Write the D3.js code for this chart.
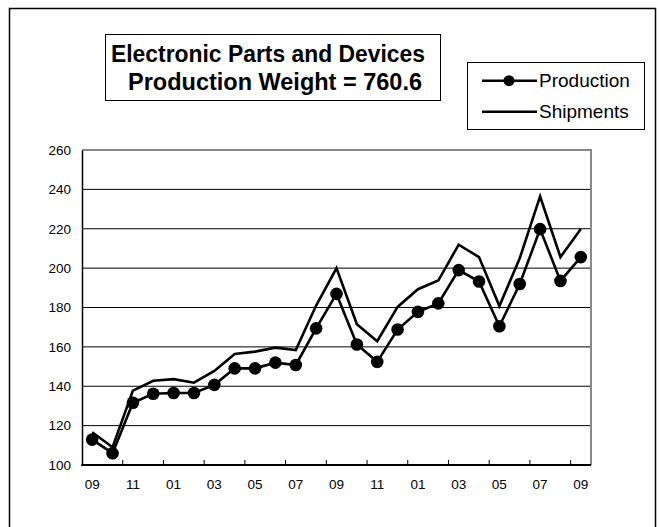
<!DOCTYPE html>
<html>
<head>
<meta charset="utf-8">
<script src="https://cdn.jsdelivr.net/npm/d3@7"></script>
<style>
  html, body { margin: 0; padding: 0; background: #fff; }
  svg { display: block; }
  text { font-family: "Liberation Sans", Arial, sans-serif; fill: #000; }
</style>
</head>
<body>
<svg id="chart" width="660" height="527"></svg>
<script>
// ---- data ----
const months = ["09","10","11","12","01","02","03","04","05","06","07","08",
                "09","10","11","12","01","02","03","04","05","06","07","08","09"];
const production = [112.9, 106.0, 131.6, 136.2, 136.6, 136.6, 140.7, 149.1, 149.1, 152.0, 150.8, 169.4,
                    186.9, 161.2, 152.4, 168.8, 177.8, 182.1, 199.0, 193.2, 170.5, 191.9, 219.8, 193.5, 205.6];
const shipments  = [116.6, 109.0, 137.8, 142.8, 143.6, 141.8, 147.8, 156.4, 157.6, 159.6, 158.4, 181.0,
                    200.0, 171.5, 162.9, 180.3, 189.3, 193.7, 211.9, 205.6, 180.7, 205.0, 236.4, 205.6, 219.9];
const yTicks = [100, 120, 140, 160, 180, 200, 220, 240, 260];
const titleLines = ["Electronic Parts and Devices", "Production Weight = 760.6"];
const seriesNames = ["Production", "Shipments"];

// ---- layout ----
const svg = d3.select("#chart");
const plot = { left: 82, right: 591, top: 150, bottom: 465 };

const x = d3.scaleBand().domain(d3.range(months.length)).range([plot.left, plot.right]).padding(0);
const y = d3.scaleLinear().domain([100, 260]).range([plot.bottom, plot.top]);
const cx = i => x(i) + x.bandwidth() / 2;

// outer frame
svg.append("rect").attr("x", 9.5).attr("y", 8.5).attr("width", 646).attr("height", 540)
  .attr("fill", "none").attr("stroke", "#000").attr("stroke-width", 1.5);

// gridlines
svg.append("g").selectAll("line").data(yTicks.filter(d => d > 100 && d < 260)).join("line")
  .attr("x1", plot.left).attr("x2", plot.right)
  .attr("y1", d => y(d)).attr("y2", d => y(d))
  .attr("stroke", "#000").attr("stroke-width", 1);

// plot border top/right (gray)
svg.append("path")
  .attr("d", `M${plot.left},${y(260)} H${plot.right} V${plot.bottom}`)
  .attr("fill", "none").attr("stroke", "#888").attr("stroke-width", 2);

// y axis
const yAxis = d3.axisLeft(y).tickValues(yTicks).tickSize(0).tickPadding(11);
const gy = svg.append("g").attr("transform", `translate(${plot.left},0)`).call(yAxis);
gy.select(".domain").attr("stroke", "#000").attr("stroke-width", 1.5);
gy.selectAll("text").attr("font-size", "13.5px").attr("font-family", "Liberation Sans, Arial, sans-serif").attr("fill", "#000");

// x axis: ticks at every second category boundary, labels every other category
const gx = svg.append("g");
gx.append("line").attr("x1", plot.left - 0.75).attr("x2", plot.right).attr("y1", plot.bottom).attr("y2", plot.bottom)
  .attr("stroke", "#000").attr("stroke-width", 2);
const tickIdx = d3.range(2, months.length, 2);
gx.selectAll("line.tick").data(tickIdx).join("line").attr("class", "tick")
  .attr("x1", i => x(i)).attr("x2", i => x(i))
  .attr("y1", plot.bottom).attr("y2", plot.bottom - 5)
  .attr("stroke", "#000").attr("stroke-width", 1);
gx.selectAll("text").data(d3.range(0, months.length, 2)).join("text")
  .attr("x", i => cx(i)).attr("y", plot.bottom + 24)
  .attr("text-anchor", "middle").attr("font-size", "13.5px")
  .text(i => months[i]);

// lines
const line = d3.line().x((d, i) => cx(i)).y(d => y(d));
svg.append("path").datum(shipments).attr("d", line)
  .attr("fill", "none").attr("stroke", "#000").attr("stroke-width", 2.6).attr("stroke-linejoin", "miter");
svg.append("path").datum(production).attr("d", line)
  .attr("fill", "none").attr("stroke", "#000").attr("stroke-width", 2.6).attr("stroke-linejoin", "miter");
svg.append("g").selectAll("circle").data(production).join("circle")
  .attr("cx", (d, i) => cx(i)).attr("cy", d => y(d)).attr("r", 6.3).attr("fill", "#000");

// title box
svg.append("rect").attr("x", 105.5).attr("y", 34.5).attr("width", 335).attr("height", 66)
  .attr("fill", "#fff").attr("stroke", "#000").attr("stroke-width", 1);
svg.append("text").attr("x", 268).attr("y", 61.5).attr("text-anchor", "middle")
  .attr("font-size", "23px").attr("font-weight", "bold")
  .attr("textLength", 314).attr("lengthAdjust", "spacingAndGlyphs").text(titleLines[0]);
svg.append("text").attr("x", 275).attr("y", 89.5).attr("text-anchor", "middle")
  .attr("font-size", "23px").attr("font-weight", "bold")
  .attr("textLength", 294).attr("lengthAdjust", "spacingAndGlyphs").text(titleLines[1]);

// legend
svg.append("rect").attr("x", 467.5).attr("y", 62.5).attr("width", 177).attr("height", 67)
  .attr("fill", "#fff").attr("stroke", "#000").attr("stroke-width", 1);
const lg = svg.append("g");
[80.7, 111.7].forEach((ly, k) => {
  lg.append("line").attr("x1", 482).attr("x2", 537).attr("y1", ly).attr("y2", ly)
    .attr("stroke", "#000").attr("stroke-width", 2.6);
  if (k === 0) lg.append("circle").attr("cx", 509).attr("cy", ly).attr("r", 5.5).attr("fill", "#000");
  lg.append("text").attr("x", 539).attr("y", ly + 6.5).attr("font-size", "19px").text(seriesNames[k]);
});
</script>
</body>
</html>
